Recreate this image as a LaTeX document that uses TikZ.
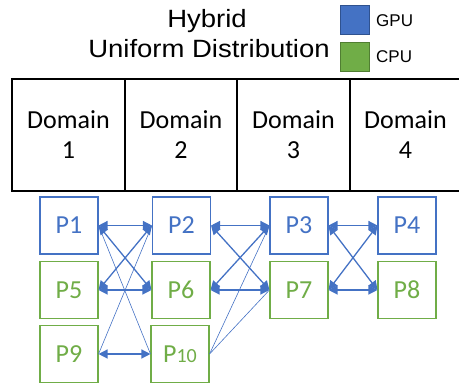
\documentclass[tikz,border=0pt]{standalone}
\usepackage{fontspec}
\setmainfont{Carlito}
\newfontfamily\arialf{Liberation Sans}
\usetikzlibrary{arrows.meta}
\definecolor{gpublue}{HTML}{4472C4}
\definecolor{gpuedge}{HTML}{2F528F}
\definecolor{cpugreen}{HTML}{70AD47}
\definecolor{cpuedge}{HTML}{507E32}
\tikzset{
  proc/.style={rectangle, draw, line width=1.1pt, minimum width=58pt, minimum height=57pt,
    inner sep=0pt, font=\fontsize{26}{26}\selectfont},
  gpu/.style={proc, draw=gpublue, text=gpublue},
  cpu/.style={proc, draw=cpugreen, text=cpugreen},
  domcell/.style={rectangle, draw=black, line width=1.2pt, minimum height=112pt,
    inner sep=0pt, align=center, font=\fontsize{26}{30}\selectfont},
  link/.style={gpublue, line width=1.3pt, {Triangle[length=9pt,width=9pt]}-{Triangle[length=9pt,width=9pt]}},
  thin/.style={gpublue, line width=0.6pt},
  swatch/.style={rectangle, line width=0.8pt, minimum width=29pt, minimum height=29pt, inner sep=0pt},
}
\begin{document}
\begin{tikzpicture}[x=1pt, y=-1pt]
\useasboundingbox (0,0) rectangle (459,385);

% title and legend
\node[anchor=base, font=\arialf\fontsize{25}{25}\selectfont] (t1) at (207,28) {\scalebox{1.1}[1]{Hybrid}};
\node[anchor=base, font=\arialf\fontsize{25}{25}\selectfont] (t2) at (209,58) {\scalebox{1.1}[1]{Uniform Distribution}};
\node[swatch, fill=gpublue, draw=gpuedge] (sg) at (354.5,19.5) {};
\node[swatch, fill=cpugreen, draw=cpuedge] (sc) at (354.5,57) {};
\node[anchor=base west, inner sep=0pt, font=\arialf\fontsize{17}{17}\selectfont] (lg) at (376,27) {GPU};
\node[anchor=base west, inner sep=0pt, font=\arialf\fontsize{17}{17}\selectfont] (lc) at (376,63) {CPU};

% domain row
\node[domcell, minimum width=113pt] (d1) at (68.5,135) {Domain\\1};
\node[domcell, minimum width=112pt] (d2) at (181,135) {Domain\\2};
\node[domcell, minimum width=113pt] (d3) at (293.5,135) {Domain\\3};
\node[domcell, minimum width=111pt] (d4) at (405.5,135) {Domain\\4};

% processes
\node[gpu] (p1) at (69,225.5) {P1};
\node[gpu] (p2) at (181.5,225.5) {P2};
\node[gpu] (p3) at (299,225.5) {P3};
\node[gpu] (p4) at (407,225.5) {P4};
\node[cpu] (p5) at (69,290) {P5};
\node[cpu] (p6) at (181,290) {P6};
\node[cpu] (p7) at (299,290) {P7};
\node[cpu] (p8) at (407,290) {P8};
\node[cpu] (p9) at (69,354) {P9};
\node[cpu] (p10) at (180,354) {P{\fontsize{20}{20}\selectfont 10}};

% thin links
\draw[thin] (p1.east) -- (p10.west);
\draw[thin] (p9.east) -- (p2.west);
\draw[thin] (p10.east) -- (p3.west);
\draw[thin] (p10.east) -- (p7.west);

% bidirectional links
\draw[link] (p1.east) -- (p2.west);
\draw[link] (p1.east) -- (p6.west);
\draw[link] (p2.west) -- (p5.east);
\draw[link] (p5.east) -- (p6.west);
\draw[link] (p9.east) -- (p10.west);
\draw[link] (p2.east) -- (p3.west);
\draw[link] (p2.east) -- (p7.west);
\draw[link] (p6.east) -- (p3.west);
\draw[link] (p6.east) -- (p7.west);
\draw[link] (p3.east) -- (p4.west);
\draw[link] (p3.east) -- (p8.west);
\draw[link] (p7.east) -- (p4.west);
\draw[link] (p7.east) -- (p8.west);
\end{tikzpicture}
\end{document}
